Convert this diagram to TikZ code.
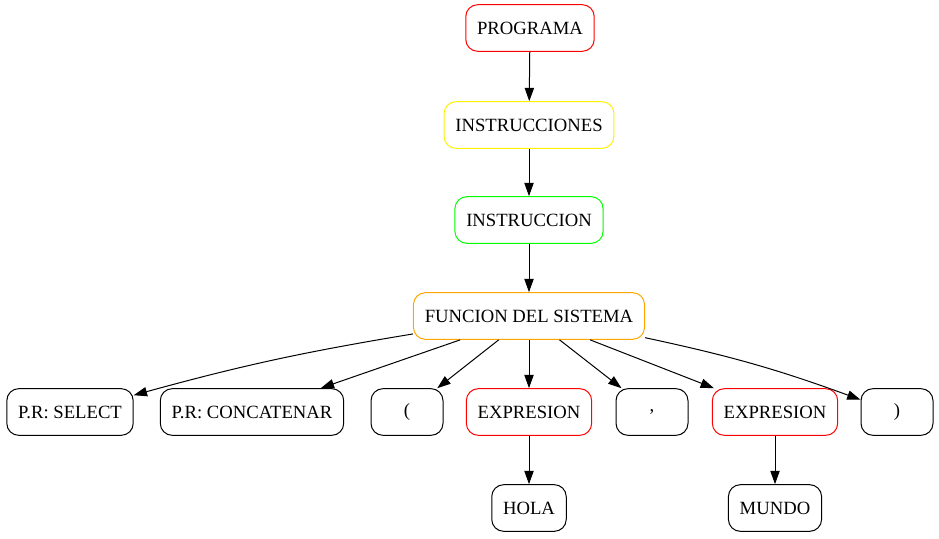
\documentclass[tikz,border=0pt]{standalone}
\usepackage{fontspec}
\setmainfont{Liberation Serif}
\usepackage{tikz}
\usetikzlibrary{positioning,arrows.meta}
\definecolor{gvorange}{RGB}{255,165,0}

\begin{document}
\begin{tikzpicture}[x=0.75pt, y=-0.75pt, arr/.style={-{Triangle[length=10pt,width=7pt]}, line width=0.75pt}]
\tikzstyle{nd}=[draw, rounded corners=9pt, line width=0.75pt, minimum height=35pt, minimum width=54pt, inner xsep=8.5pt, font=\fontsize{14}{16}\selectfont]%
\useasboundingbox (0,0) rectangle (939,539);
\node[nd, draw=red] (prog) at (530,28) {PROGRAMA};
\node[nd, draw=yellow] (ins) at (529,125) {INSTRUCCIONES};
\node[nd, draw=green] (inst) at (529,220) {INSTRUCCION};
\node[nd, draw=gvorange] (fun) at (529,316) {FUNCION DEL SISTEMA};
\node[nd] (sel) at (70,412) {P.R: SELECT};
\node[nd] (conc) at (252,412) {P.R: CONCATENAR};
\node[nd] (lpar) at (407,412) {(};
\node[nd, draw=red] (exp1) at (529,412) {EXPRESION};
\node[nd] (coma) at (652,412) {,};
\node[nd, draw=red] (exp2) at (775,412) {EXPRESION};
\node[nd] (rpar) at (897,412) {)};
\node[nd] (hola) at (529,508) {HOLA};
\node[nd] (mundo) at (775,508) {MUNDO};
\draw[arr] (prog) -- (ins);
\draw[arr] (ins) -- (inst);
\draw[arr] (inst) -- (fun);
\draw[arr] (fun) to[bend right=3] (sel);
\foreach \n in {conc,lpar,exp1,coma,exp2}{\draw[arr] (fun) -- (\n);}
\draw[arr] (fun) to[bend left=4] (rpar);
\draw[arr] (exp1) -- (hola);
\draw[arr] (exp2) -- (mundo);
\end{tikzpicture}
\end{document}
